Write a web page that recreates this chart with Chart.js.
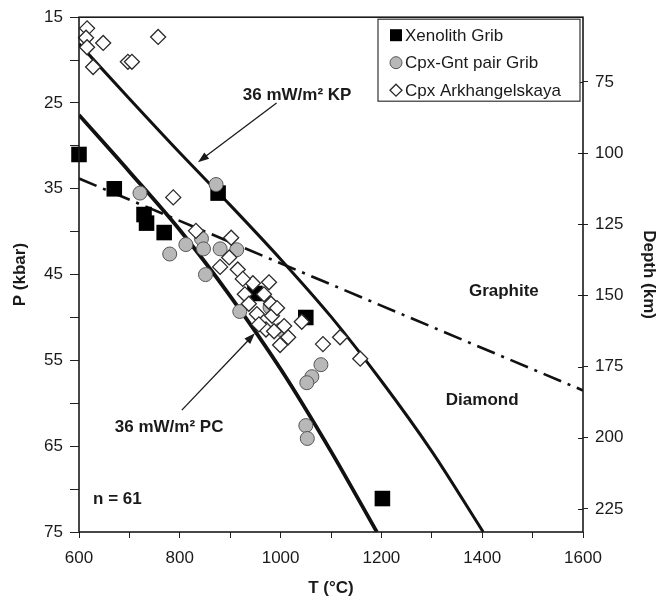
<!DOCTYPE html>
<html>
<head>
<meta charset="utf-8">
<script src="https://cdn.jsdelivr.net/npm/chart.js@4.4.1/dist/chart.umd.min.js"></script>
<style>
  html, body { margin: 0; padding: 0; background: #fff; }
  #wrap { width: 668px; height: 602px; }
</style>
</head>
<body>
<div id="wrap"><canvas id="c" width="668" height="602"></canvas></div>
<script>
// values (T in °C, P in kbar)
const xenolithT = [600, 670, 729, 734, 769, 876, 949, 1050, 1202];
const xenolithP = [31.0, 35.0, 38.0, 39.0, 40.1, 35.5, 47.2, 50.0, 71.1];

const cpxGntT = [721, 872, 780, 812, 843, 847, 880, 913, 851, 919, 979, 1001, 1080, 1062, 1052, 1050, 1053];
const cpxGntP = [35.5, 34.5, 42.6, 41.5, 40.8, 42.0, 42.0, 42.1, 45.0, 49.3, 48.8, 51.4, 55.5, 56.9, 57.6, 62.6, 64.1];

const arkhT = [616, 614, 648, 616, 628, 697, 705, 757, 787, 832, 902, 898, 880, 915, 945, 977, 929,
  967, 937, 981, 953, 983, 971, 987, 1015, 999, 1042, 1084, 1118, 1158, 993, 957, 925, 1007];
const arkhP = [16.3, 17.4, 18.0, 18.5, 20.8, 20.2, 20.2, 17.3, 36.0, 39.9, 40.7, 43.0, 44.1, 44.4, 46.0, 45.9, 47.3,
  47.3, 48.4, 48.4, 49.6, 49.8, 51.4, 51.6, 52.3, 53.2, 50.5, 53.1, 52.3, 54.8, 48.9, 50.8, 45.5, 51.0];

// 36 mW/m2 geotherms and the graphite/diamond boundary
const kpT = [600, 700, 800, 900, 1000, 1100, 1200, 1300, 1402];
const kpP = [18.1, 24.5, 30.8, 36.9, 43.2, 49.9, 57.4, 65.6, 75];
const pcT = [600, 700, 800, 900, 1000, 1100, 1191];
const pcP = [26.4, 33.0, 39.8, 47.5, 56.0, 65.6, 75];
const gdT = [600, 1600];
const gdP = [33.8, 58.5];

// axis ticks
const tLabels = [600, 800, 1000, 1200, 1400, 1600];
const pLabels = [15, 25, 35, 45, 55, 65, 75];
const depthTicks = [75, 100, 125, 150, 175, 200, 225];

// labels and arrows on the plot, in data units
const notes = [
  { text: '36 mW/m² KP', T: 925, P: 24.1, align: 'left' },
  { text: '36 mW/m² PC', T: 671, P: 62.8, align: 'left' },
  { text: 'n = 61', T: 628, P: 71.2, align: 'left' },
  { text: 'Graphite', T: 1443, P: 47.0, align: 'center' },
  { text: 'Diamond', T: 1400, P: 59.7, align: 'center' }
];
const arrows = [
  { from: [992, 25.0], to: [836, 31.9] },
  { from: [804, 60.8], to: [949, 51.85] }
];

const FONT = '"Liberation Sans", Arial, Helvetica, sans-serif';
Chart.defaults.font.family = FONT;
Chart.defaults.color = '#1a1a1a';

const pts = (xs, ys) => xs.map((x, i) => ({ x: x, y: ys[i] }));

function arrow(ctx, x1, y1, x2, y2) {
  const ang = Math.atan2(y2 - y1, x2 - x1);
  ctx.beginPath();
  ctx.moveTo(x1, y1);
  ctx.lineTo(x2 - 6 * Math.cos(ang), y2 - 6 * Math.sin(ang));
  ctx.stroke();
  ctx.beginPath();
  ctx.moveTo(x2, y2);
  ctx.lineTo(x2 - 11 * Math.cos(ang) + 4 * Math.sin(ang), y2 - 11 * Math.sin(ang) - 4 * Math.cos(ang));
  ctx.lineTo(x2 - 11 * Math.cos(ang) - 4 * Math.sin(ang), y2 - 11 * Math.sin(ang) + 4 * Math.cos(ang));
  ctx.closePath();
  ctx.fill();
}

function legendMark(ctx, ds, x, y) {
  ctx.fillStyle = ds.backgroundColor;
  ctx.strokeStyle = ds.borderColor;
  ctx.lineWidth = ds.borderWidth || 1;
  ctx.beginPath();
  if (ds.pointStyle === 'rect') {
    ctx.rect(x - 6, y - 6, 12, 12);
  } else if (ds.pointStyle === 'circle') {
    ctx.arc(x, y, 6, 0, Math.PI * 2);
  } else {
    ctx.moveTo(x - 6, y); ctx.lineTo(x, y - 6); ctx.lineTo(x + 6, y); ctx.lineTo(x, y + 6); ctx.closePath();
  }
  ctx.fill();
  if (ds.borderWidth) ctx.stroke();
}

const overlay = {
  id: 'overlay',
  afterDraw(chart) {
    const { ctx, chartArea: a } = chart;
    const x = chart.scales.x, y = chart.scales.y, y2 = chart.scales.y2;
    ctx.save();

    // plot frame
    ctx.strokeStyle = '#1a1a1a';
    ctx.lineWidth = 1.6;
    ctx.strokeRect(a.left, a.top, a.right - a.left, a.bottom - a.top);

    // depth ticks also reach inside the frame
    ctx.lineWidth = 1;
    y2.ticks.forEach(t => {
      const py = Math.round(y2.getPixelForValue(t.value)) + 0.5;
      ctx.beginPath(); ctx.moveTo(a.right - 5, py); ctx.lineTo(a.right, py); ctx.stroke();
    });

    // arrows
    ctx.strokeStyle = '#1a1a1a';
    ctx.fillStyle = '#1a1a1a';
    ctx.lineWidth = 1.3;
    arrows.forEach(ar => {
      arrow(ctx, x.getPixelForValue(ar.from[0]), y.getPixelForValue(ar.from[1]),
        x.getPixelForValue(ar.to[0]), y.getPixelForValue(ar.to[1]));
    });

    // text notes
    ctx.font = 'bold 17px ' + FONT;
    ctx.textBaseline = 'middle';
    notes.forEach(n => {
      ctx.textAlign = n.align;
      ctx.fillText(n.text, x.getPixelForValue(n.T), y.getPixelForValue(n.P));
    });

    // legend box in the upper right corner
    const bw = 202, bh = 82;
    const bx = a.right - 3 - bw, by = a.top + 2;
    ctx.fillStyle = '#fff';
    ctx.fillRect(bx, by, bw, bh);
    ctx.strokeStyle = '#333';
    ctx.lineWidth = 1.2;
    ctx.strokeRect(bx, by, bw, bh);
    ctx.font = '17px ' + FONT;
    ctx.textAlign = 'left';
    chart.data.datasets.slice(0, 3).forEach((ds, i) => {
      const ry = by + 16 + i * 27.5;
      legendMark(ctx, ds, bx + 18, ry);
      ctx.fillStyle = '#1a1a1a';
      ctx.fillText(ds.label, bx + 27, ry + 1);
    });
    ctx.restore();
  }
};

new Chart(document.getElementById('c'), {
  type: 'scatter',
  data: {
    datasets: [
      { label: 'Xenolith Grib', data: pts(xenolithT, xenolithP), pointStyle: 'rect', pointRadius: 11,
        backgroundColor: '#000', borderColor: '#000', borderWidth: 0, clip: false, order: 3 },
      { label: 'Cpx-Gnt pair Grib', data: pts(cpxGntT, cpxGntP), pointStyle: 'circle', pointRadius: 7,
        backgroundColor: '#b8b8b8', borderColor: '#555', borderWidth: 1, clip: false, order: 2 },
      { label: 'Cpx Arkhangelskaya', data: pts(arkhT, arkhP), pointStyle: 'rectRot', pointRadius: 7.5,
        backgroundColor: '#fff', borderColor: '#2a2a2a', borderWidth: 1.3, clip: false, order: 1 },
      { label: '36 mW/m2 KP', type: 'line', data: pts(kpT, kpP), borderColor: '#111', borderWidth: 3,
        pointRadius: 0, cubicInterpolationMode: 'monotone', fill: false, order: 5 },
      { label: '36 mW/m2 PC', type: 'line', data: pts(pcT, pcP), borderColor: '#111', borderWidth: 3.8,
        pointRadius: 0, cubicInterpolationMode: 'monotone', fill: false, order: 6 },
      { label: 'Graphite / Diamond', type: 'line', data: pts(gdT, gdP), borderColor: '#111', borderWidth: 2.6,
        borderDash: [19, 7, 3, 7], pointRadius: 0, fill: false, order: 7 }
    ]
  },
  options: {
    responsive: false,
    animation: false,
    layout: { padding: { top: 17, left: 0, right: 0, bottom: 0 } },
    plugins: { legend: { display: false }, tooltip: { enabled: false } },
    scales: {
      x: {
        type: 'linear', position: 'bottom', min: 600, max: 1600,
        ticks: { stepSize: 100, autoSkip: false, maxRotation: 0, padding: 10, font: { size: 17 },
          callback: v => tLabels.includes(v) ? String(v) : '' },
        grid: { drawOnChartArea: false, tickLength: 6, color: '#222' },
        border: { display: false },
        title: { display: true, text: 'T (°C)', font: { size: 17, weight: 'bold' }, padding: { top: 0, bottom: 3 } },
        afterFit: s => { s.height = 70; }
      },
      y: {
        type: 'linear', position: 'left', reverse: true, min: 15, max: 75,
        ticks: { stepSize: 5, autoSkip: false, padding: 7, font: { size: 17 },
          callback: v => pLabels.includes(v) ? String(v) : '' },
        grid: { drawOnChartArea: false, tickLength: 9, color: '#222' },
        border: { display: false },
        title: { display: true, text: 'P (kbar)', font: { size: 17, weight: 'bold' }, padding: { top: 10, bottom: 0 } },
        afterFit: s => { s.width = 79; }
      },
      y2: {
        type: 'linear', position: 'right', reverse: true, min: 52.3, max: 233.1,
        afterBuildTicks: s => { s.ticks = depthTicks.map(v => ({ value: v })); },
        ticks: { padding: 7, font: { size: 17 } },
        grid: { drawOnChartArea: false, tickLength: 5, color: '#222' },
        border: { display: false },
        title: { display: true, text: 'Depth (km)', font: { size: 17, weight: 'bold' }, padding: { top: 9, bottom: 0 } },
        afterFit: s => { s.width = 85; }
      }
    }
  },
  plugins: [overlay]
});
</script>
</body>
</html>
